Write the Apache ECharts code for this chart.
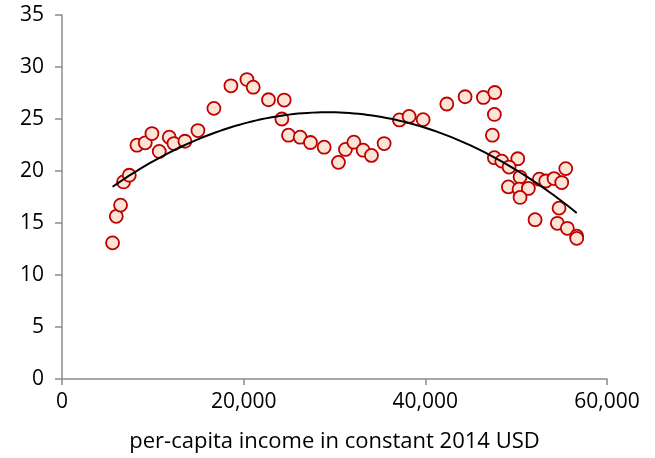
<!DOCTYPE html>
<html>
<head>
<meta charset="utf-8">
<script src="https://cdn.jsdelivr.net/npm/echarts@6/dist/echarts.min.js"></script>
<style>html,body{margin:0;padding:0;background:#fff;}#c{width:655px;height:458px;}</style>
</head>
<body>
<div id="c"></div>
<script>
var incomeX = [5568,5975,6448,6778,7405,8253,9166,9903,10706,11807,12324,13534,14965,16725,18596,20357,21050,22733,24461,24208,24934,26221,27355,28862,30436,31206,32130,33154,34067,35464,37148,38215,39756,42364,44377,46391,47645,47601,47381,47601,48416,50176,49219,50429,49142,50319,51342,50429,52553,53257,54170,55018,55458,54721,52080,54533,55634,56668,56668];
var valueY = [13.09,15.64,16.72,18.95,19.59,22.48,22.71,23.60,21.88,23.25,22.64,22.86,23.89,26.02,28.19,28.79,28.06,26.85,26.82,25.00,23.44,23.25,22.74,22.29,20.83,22.07,22.77,22.00,21.50,22.64,24.91,25.25,24.94,26.44,27.14,27.07,27.55,25.44,23.44,21.28,20.95,21.18,20.38,19.42,18.47,18.25,18.32,17.46,19.21,19.04,19.27,18.89,20.23,16.43,15.32,14.97,14.49,13.73,13.52];
var xTicks = [0, 20000, 40000, 60000];
var yTicks = [0, 5, 10, 15, 20, 25, 30, 35];
var xTitle = 'per-capita income in constant 2014 USD';

var points = incomeX.map(function(x, i){ return [x, valueY[i]]; });

// Least-squares quadratic trendline fitted to the data (like a spreadsheet polynomial trendline)
function quadFit(xs, ys){
  var n = xs.length, s = [0,0,0,0,0], t = [0,0,0];
  for (var i = 0; i < n; i++){
    var x = xs[i] / 10000, y = ys[i], p = 1;
    for (var k = 0; k < 5; k++){ s[k] += p; if (k < 3) t[k] += p * y; p *= x; }
  }
  var A = [[s[0],s[1],s[2],t[0]],[s[1],s[2],s[3],t[1]],[s[2],s[3],s[4],t[2]]];
  for (var c = 0; c < 3; c++){
    for (var r = c + 1; r < 3; r++){
      var f = A[r][c] / A[c][c];
      for (var j = c; j < 4; j++) A[r][j] -= f * A[c][j];
    }
  }
  var b = [0,0,0];
  for (var r2 = 2; r2 >= 0; r2--){
    var v = A[r2][3];
    for (var j2 = r2 + 1; j2 < 3; j2++) v -= A[r2][j2] * b[j2];
    b[r2] = v / A[r2][r2];
  }
  return b;
}
var coef = quadFit(incomeX, valueY);
var xMin = Math.min.apply(null, incomeX), xMax = Math.max.apply(null, incomeX);
var trend = [];
for (var k = 0; k <= 100; k++){
  var xv = xMin + (xMax - xMin) * k / 100, u = xv / 10000;
  trend.push([xv, coef[0] + coef[1] * u + coef[2] * u * u]);
}

var FONT = '"Open Sans", "Noto Sans", sans-serif';
var chart = echarts.init(document.getElementById('c'));
chart.setOption({
  animation: false,
  grid: { left: 62, right: 48, top: 15, bottom: 77 },
  xAxis: {
    type: 'value', min: xTicks[0], max: xTicks[xTicks.length-1], interval: 20000,
    name: xTitle, nameLocation: 'middle', nameGap: 52,
    nameTextStyle: { color: '#000', fontSize: 22, fontFamily: FONT },
    axisLine: { show: true, lineStyle: { color: '#8c8c8c', width: 1.5 } },
    axisTick: { show: true, inside: false, length: 6, lineStyle: { color: '#8c8c8c', width: 1.5 } },
    axisLabel: { color: '#000', fontSize: 21, fontFamily: FONT, margin: 13,
      formatter: function(v){ return v.toLocaleString('en-US'); } },
    splitLine: { show: false }
  },
  yAxis: {
    type: 'value', min: yTicks[0], max: yTicks[yTicks.length-1], interval: 5,
    axisLine: { show: true, lineStyle: { color: '#8c8c8c', width: 1.5 } },
    axisTick: { show: true, inside: false, length: 7, lineStyle: { color: '#8c8c8c', width: 1.5 } },
    axisLabel: { color: '#000', fontSize: 21, fontFamily: FONT, margin: 18 },
    splitLine: { show: false }
  },
  series: [
    {
      type: 'scatter', data: points, symbol: 'circle', symbolSize: 13,
      itemStyle: { color: '#fce4d6', borderColor: '#c00000', borderWidth: 1.8, opacity: 1 },
      z: 2
    },
    {
      type: 'line', data: trend, showSymbol: false, smooth: false,
      lineStyle: { color: '#000', width: 2 }, z: 3
    }
  ]
});
</script>
</body>
</html>
